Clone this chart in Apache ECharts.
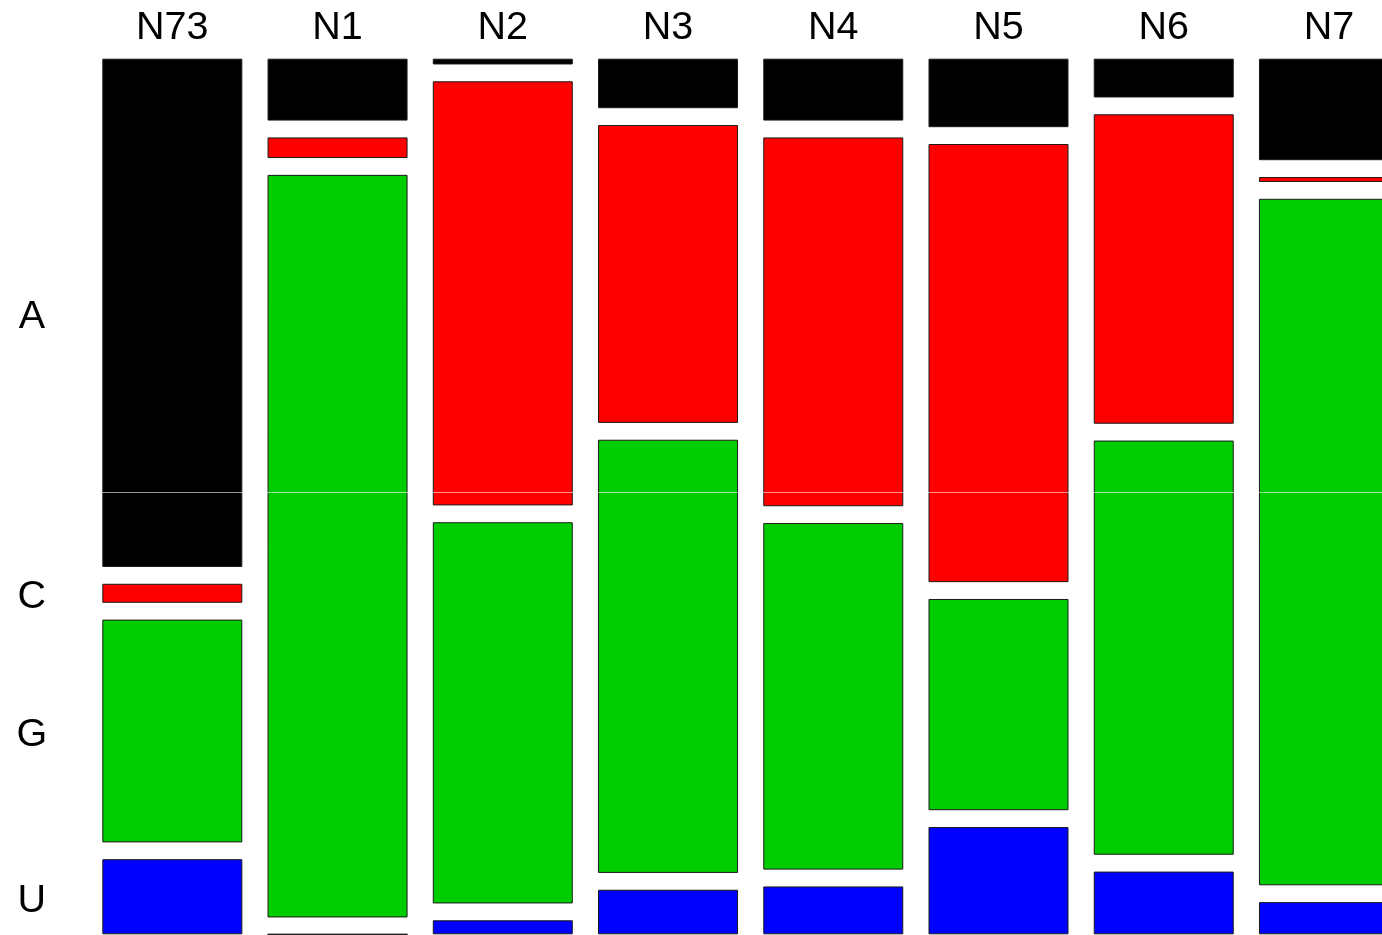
<!DOCTYPE html>
<html>
<head>
<meta charset="utf-8">
<title>Nucleotide composition by position</title>
<script src="https://cdn.jsdelivr.net/npm/echarts@6/dist/echarts.min.js"></script>
<style>
  html, body { margin: 0; padding: 0; background: #fff; overflow: hidden; }
  /* the last column runs past the right edge of the window */
  #chart { width: 1420px; height: 940px; }
</style>
</head>
<body>
<div id="chart"></div>
<script>
// Positions along the sequence (columns) and nucleotides (tiles, top to bottom)
const categories = ['N73', 'N1', 'N2', 'N3', 'N4', 'N5', 'N6', 'N7'];
const nucleotides = ['A', 'C', 'G', 'U'];

// Share of each nucleotide at each position
const shareA = [0.616, 0.075, 0.007, 0.060, 0.075, 0.083, 0.047, 0.123];
const shareC = [0.023, 0.025, 0.514, 0.361, 0.447, 0.531, 0.375, 0.006];
const shareG = [0.270, 0.900, 0.462, 0.525, 0.420, 0.256, 0.502, 0.832];
const shareU = [0.091, 0.000, 0.017, 0.054, 0.058, 0.130, 0.076, 0.039];

const tileColors = ['#000000', '#ff0000', '#00cd00', '#0000ff'];

// Empty space left between stacked tiles, in the same units as the shares
const TILE_GAP = 0.0204;
const FONT = '"Liberation Sans", Arial, Helvetica, sans-serif';

const shares = [shareA, shareC, shareG, shareU];
const series = [];

shares.forEach(function (vals, k) {
  series.push({
    name: nucleotides[k],
    type: 'bar',
    stack: 'mosaic',
    barWidth: 140,
    itemStyle: { color: tileColors[k], borderColor: '#1a1a1a', borderWidth: 1 },
    // the row name sits beside the tile of the first column
    data: vals.map(function (v, i) {
      if (i !== 0) return v;
      return {
        value: v,
        label: {
          show: true,
          formatter: nucleotides[k],
          position: [-70.5, '50%'],
          offset: [0, 4],
          align: 'center',
          verticalAlign: 'middle',
          fontFamily: FONT,
          fontSize: 39.5,
          color: '#000'
        }
      };
    })
  });
  if (k < shares.length - 1) {
    series.push({
      name: 'gap' + k,
      type: 'bar',
      stack: 'mosaic',
      barWidth: 140,
      silent: true,
      itemStyle: { color: 'rgba(0,0,0,0)', borderWidth: 0 },
      data: categories.map(function () { return TILE_GAP; })
    });
  }
});

const chart = echarts.init(document.getElementById('chart'), null, { renderer: 'canvas' });
chart.setOption({
  animation: false,
  backgroundColor: '#ffffff',
  grid: { left: 89.7, top: 58.7, width: 1321.9, height: 875.6, containLabel: false },
  xAxis: {
    type: 'category',
    position: 'top',
    data: categories,
    axisLine: { show: false },
    axisTick: { show: false },
    splitLine: { show: false },
    axisLabel: { fontFamily: FONT, fontSize: 39.5, color: '#000', margin: 11 }
  },
  yAxis: {
    type: 'value',
    inverse: true,
    min: 0,
    max: 1 + 3 * TILE_GAP,
    show: false
  },
  series: series,
  graphic: [{
    type: 'line',
    z: 100,
    silent: true,
    shape: { x1: 0, y1: 492.5, x2: 1420, y2: 492.5 },
    style: { stroke: 'rgba(255,255,255,0.6)', lineWidth: 1 }
  }]
});
</script>
</body>
</html>
